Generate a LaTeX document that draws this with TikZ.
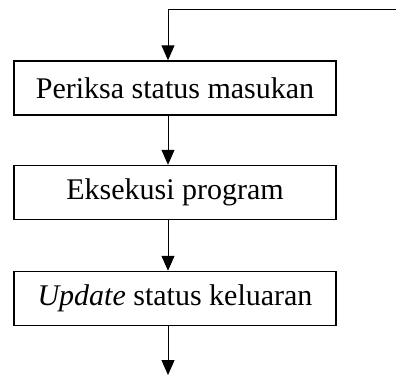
\documentclass[tikz,border=0pt]{standalone}
\usepackage{fontspec}
\setmainfont{Liberation Serif}
\usetikzlibrary{arrows.meta}
\begin{document}
\begin{tikzpicture}[x=1pt,y=1pt,
  stepbox/.style={draw,line width=1.5pt,minimum width=322pt,minimum height=54pt,inner sep=0pt,font=\fontsize{30}{34}\selectfont},
  flow/.style={line width=1pt,-{Triangle[width=13pt,length=15pt]}}]
\useasboundingbox (0,0) rectangle (396,-375);
\node[stepbox] (b1) at (175,-88) {Periksa status masukan};
\node[stepbox] (b2) at (175,-192.5) {Eksekusi program};
\node[stepbox] (b3) at (175,-298.5) {\textit{Update} status keluaran};
\coordinate (tr) at (396,-9);
\coordinate (tl) at (168,-9);
\coordinate (end) at (168,-375);
\draw[flow] (tr) -- (tl) -- (tl |- b1.north);
\draw[flow] (tl |- b1.south) -- (tl |- b2.north);
\draw[flow] (tl |- b2.south) -- (tl |- b3.north);
\draw[flow] (tl |- b3.south) -- (end);
\end{tikzpicture}
\end{document}
